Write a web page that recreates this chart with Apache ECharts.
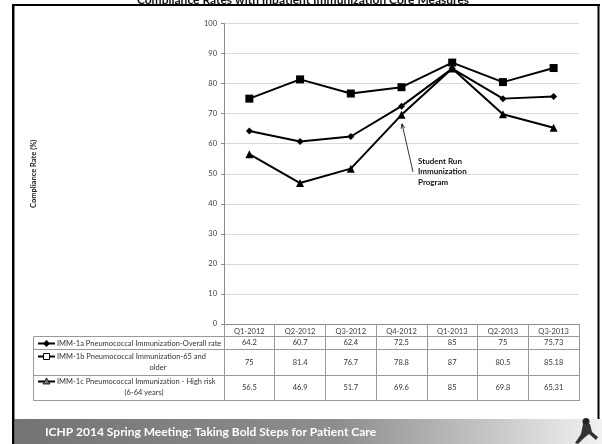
<!DOCTYPE html>
<html>
<head>
<meta charset="utf-8">
<script src="https://cdn.jsdelivr.net/npm/echarts@6/dist/echarts.min.js"></script>
<style>
  html, body { margin: 0; padding: 0; background: #fff; }
  #chart { width: 602px; height: 444px; }
</style>
</head>
<body>
<div id="chart"></div>
<script>
// chart data
const categories = ['Q1-2012', 'Q2-2012', 'Q3-2012', 'Q4-2012', 'Q1-2013', 'Q2-2013', 'Q3-2013'];
const overallRate = [64.2, 60.7, 62.4, 72.5, 85, 75, 75.73];
const olderRate = [75, 81.4, 76.7, 78.8, 87, 80.5, 85.18];
const highRiskRate = [56.5, 46.9, 51.7, 69.6, 85, 69.8, 65.31];
const seriesNames = [
  'IMM-1a Pneumococcal Immunization-Overall rate',
  'IMM-1b Pneumococcal Immunization-65 and older',
  'IMM-1c Pneumococcal Immunization - High risk (6-64 years)'
];
const yMin = 0, yMax = 100, yStep = 10;

const FONT = 'Lato';
const chart = echarts.init(document.getElementById('chart'), null, { renderer: 'canvas' });

const lineSeries = (name, data, symbol, size) => ({
  name: name,
  type: 'line',
  data: data,
  symbol: symbol,
  symbolSize: size,
  showSymbol: true,
  lineStyle: { color: '#000', width: 2 },
  itemStyle: { color: '#000', borderWidth: 0 },
  emphasis: { disabled: true },
  z: 3
});

chart.setOption({
  animation: false,
  grid: { left: 224, top: 23.5, width: 355, height: 300.5 },
  xAxis: {
    type: 'category',
    data: categories,
    boundaryGap: true,
    axisLine: { lineStyle: { color: '#8c8c8c', width: 1 } },
    axisTick: { show: true, interval: 0, length: 77, lineStyle: { color: '#999', width: 1 } },
    axisLabel: { fontFamily: FONT, fontSize: 7.5, color: '#404040', margin: 4, interval: 0 }
  },
  yAxis: {
    type: 'value',
    min: yMin, max: yMax, interval: yStep,
    name: 'Compliance Rate (%)',
    nameLocation: 'middle',
    nameRotate: 90,
    nameGap: 186,
    nameTextStyle: { fontFamily: FONT, fontSize: 7.5, fontWeight: 'bold', color: '#222' },
    axisLine: { show: true, lineStyle: { color: '#8c8c8c', width: 1 } },
    axisTick: { show: true, length: 3, lineStyle: { color: '#8c8c8c' } },
    axisLabel: { fontFamily: FONT, fontSize: 7.5, color: '#404040', margin: 7 },
    splitLine: { lineStyle: { color: '#d9d9d9', width: 1 } }
  },
  series: [
    lineSeries(seriesNames[0], overallRate, 'diamond', 7),
    lineSeries(seriesNames[1], olderRate, 'rect', 8),
    lineSeries(seriesNames[2], highRiskRate, 'triangle', 8)
  ]
});

// table under the plot, built from the same arrays
const rows = [
  { values: overallRate, top: 336.5, bottom: 349.5, symbol: 'diamond', open: false,
    lines: [{ text: 'IMM-1a Pneumococcal Immunization-Overall rate', x: 57, y: 343.5, align: 'left' }] },
  { values: olderRate, top: 349.5, bottom: 375.5, symbol: 'rect', open: true,
    lines: [{ text: 'IMM-1b Pneumococcal Immunization-65 and', x: 57, y: 356.5, align: 'left' },
            { text: 'older', x: 158, y: 368, align: 'center' }] },
  { values: highRiskRate, top: 375.5, bottom: 400.5, symbol: 'triangle', open: true,
    lines: [{ text: 'IMM-1c Pneumococcal Immunization - High risk', x: 57, y: 381.5, align: 'left' },
            { text: '(6-64 years)', x: 144, y: 393, align: 'center' }] }
];

const gridRight = 579;
const tableLeft = 33.5;
const g = [];

// horizontal rules
g.push({ type: 'line', shape: { x1: tableLeft, y1: 336.5, x2: gridRight, y2: 336.5 }, style: { stroke: '#999', lineWidth: 1 } });
rows.forEach(r => {
  g.push({ type: 'line', shape: { x1: tableLeft, y1: r.bottom, x2: gridRight, y2: r.bottom }, style: { stroke: '#999', lineWidth: 1 } });
});
g.push({ type: 'line', shape: { x1: tableLeft, y1: 336.5, x2: tableLeft, y2: 400.5 }, style: { stroke: '#999', lineWidth: 1 } });

rows.forEach((r, ri) => {
  const cy = (r.top + r.bottom) / 2;
  r.values.forEach((v, i) => {
    const x = chart.convertToPixel({ xAxisIndex: 0 }, i);
    g.push({ type: 'text', x: x, y: cy, style: {
      text: String(v), align: 'center', verticalAlign: 'middle',
      font: '7.5px ' + FONT, fill: '#333' } });
  });
  r.lines.forEach(l => {
    g.push({ type: 'text', x: l.x, y: l.y, style: {
      text: l.text, align: l.align, verticalAlign: 'middle',
      font: '7.5px ' + FONT, fill: '#333' } });
  });
  // legend key
  const ky = r.lines[0].y;
  g.push({ type: 'line', shape: { x1: 38, y1: ky, x2: 55, y2: ky }, style: { stroke: '#000', lineWidth: 2 } });
  if (r.symbol === 'diamond') {
    g.push({ type: 'polygon', shape: { points: [[46.5, ky - 3.5], [50, ky], [46.5, ky + 3.5], [43, ky]] }, style: { fill: '#000' } });
  } else if (r.symbol === 'rect') {
    g.push({ type: 'rect', shape: { x: 43.5, y: ky - 3, width: 6, height: 6 }, style: { fill: '#fff', stroke: '#000', lineWidth: 1 } });
  } else {
    g.push({ type: 'polygon', shape: { points: [[46.5, ky - 3.5], [50, ky + 2.5], [43, ky + 2.5]] }, style: { fill: '#777', stroke: '#000', lineWidth: 0.8 } });
  }
});

// annotation pointing at the Q4-2012 high-risk point
const pt = chart.convertToPixel({ seriesIndex: 2 }, [3, highRiskRate[3]]);
const head = [pt[0] + 0.5, pt[1] + 9];
const tail = [pt[0] + 11.5, pt[1] + 57];
const dx = head[0] - tail[0], dy = head[1] - tail[1];
const len = Math.sqrt(dx * dx + dy * dy);
const ux = dx / len, uy = dy / len;
const ah = 5, ang = 0.4;
const wing = s => [head[0] - ah * (ux * Math.cos(ang) - s * uy * Math.sin(ang)),
                   head[1] - ah * (uy * Math.cos(ang) + s * ux * Math.sin(ang))];
g.push({ type: 'line', shape: { x1: tail[0], y1: tail[1], x2: head[0], y2: head[1] }, style: { stroke: '#000', lineWidth: 0.8 } });
g.push({ type: 'polyline', shape: { points: [wing(1), head, wing(-1)] }, style: { stroke: '#000', lineWidth: 0.8, fill: null } });
g.push({ type: 'text', x: pt[0] + 16.5, y: pt[1] + 41, style: {
  text: 'Student Run\nImmunization\nProgram', align: 'left', verticalAlign: 'top',
  font: 'bold 8px ' + FONT, fill: '#111', lineHeight: 10.5 } });

// slide frame and footer banner
g.push({ type: 'rect', shape: { x: 12, y: 4, width: 588, height: 2 }, style: { fill: '#000' }, z: 10 });
g.push({ type: 'rect', shape: { x: 12, y: 4, width: 2.5, height: 440 }, style: { fill: '#000' }, z: 10 });
g.push({ type: 'rect', shape: { x: 597.5, y: 4, width: 2, height: 415 }, style: { fill: '#000' }, z: 10 });
g.push({ type: 'rect', shape: { x: 14.5, y: 419, width: 588, height: 25 }, style: {
  fill: new echarts.graphic.LinearGradient(0, 0, 1, 0, [
    { offset: 0, color: '#747474' },
    { offset: 0.55, color: '#8e8e8e' },
    { offset: 0.8, color: '#c4c4c4' },
    { offset: 1, color: '#f2f2f2' }
  ]) }, z: 9 });
g.push({ type: 'text', x: 45, y: 432, style: {
  text: 'ICHP 2014 Spring Meeting: Taking Bold Steps for Patient Care',
  align: 'left', verticalAlign: 'middle', font: 'bold 12px ' + FONT, fill: '#fff' }, z: 11 });
// small runner figure
g.push({ type: 'circle', shape: { cx: 586, cy: 421.5, r: 3.5 }, style: { fill: '#222' }, z: 11 });
g.push({ type: 'polygon', shape: { points: [[583, 424], [590, 424], [592, 432], [598, 437], [596, 440], [589, 434], [584, 438], [578, 444], [575, 443], [581, 434]] }, style: { fill: '#333' }, z: 11 });

// clipped title
g.push({ type: 'text', x: 303, y: 0.5, style: {
  text: 'Compliance Rates with Inpatient Immunization Core Measures',
  align: 'center', verticalAlign: 'middle', font: 'bold 12px ' + FONT, fill: '#111' }, z: 12 });

chart.setOption({ graphic: { elements: g } });
</script>
</body>
</html>
